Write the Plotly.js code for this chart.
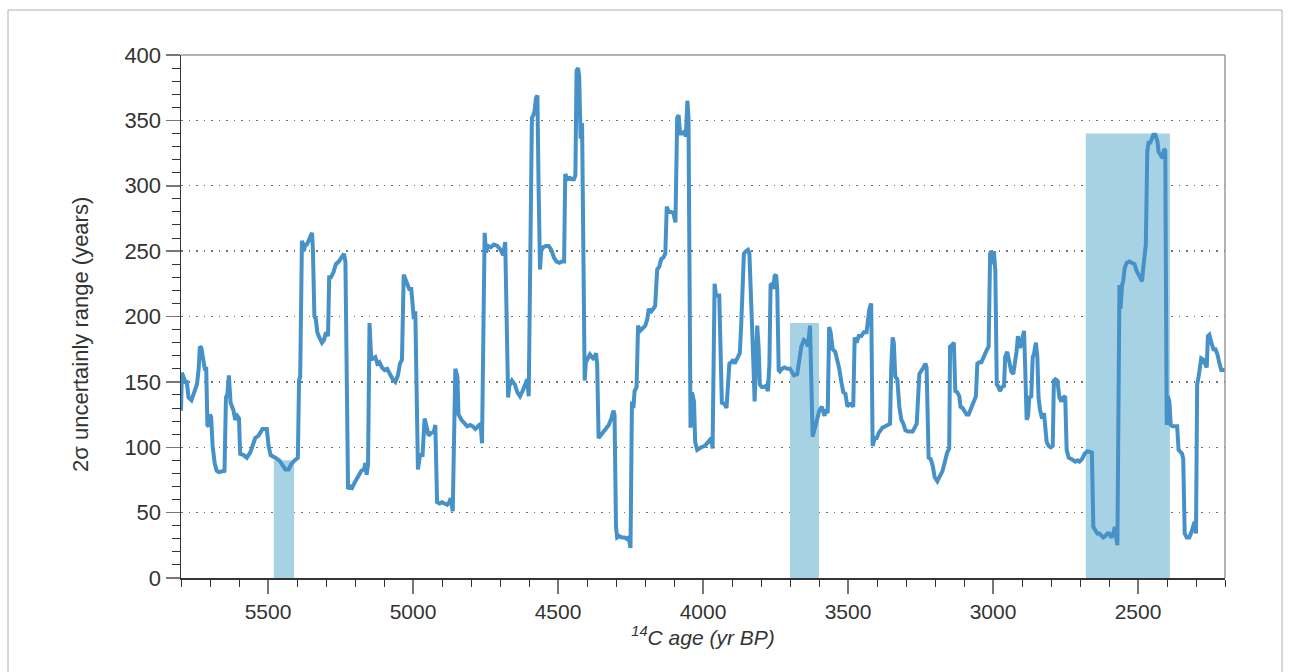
<!DOCTYPE html>
<html>
<head>
<meta charset="utf-8">
<script src="https://cdn.plot.ly/plotly-3.0.1.min.js"></script>
<style>
html, body { margin: 0; padding: 0; background: #fff; }
#chart { width: 1291px; height: 672px; }
</style>
</head>
<body>
<div id="chart"></div>
<script>
// 14C age (yr BP)
const ageBP = [
5800,5797,5790,5785,5780,5774,5764,5756,5745,5739,5735,5730,5724,5718,5713,5709,5704,5700,5696,5691,
5684,5677,5670,5659,5650,5645,5640,5635,5629,5619,5613,5606,5600,5596,5584,5573,5561,5544,5532,5519,
5504,5498,5491,5475,5461,5452,5440,5429,5420,5408,5397,5393,5389,5383,5377,5371,5366,5358,5348,5345,
5340,5335,5330,5323,5314,5307,5300,5293,5289,5283,5274,5266,5256,5247,5238,5233,5224,5217,5210,5201,
5190,5178,5169,5164,5160,5155,5150,5144,5137,5130,5123,5116,5107,5098,5089,5079,5070,5061,5052,5045,
5038,5032,5027,5020,5013,5006,5001,4997,4992,4983,4976,4967,4960,4953,4946,4937,4928,4923,4917,4909,
4900,4891,4882,4875,4870,4863,4854,4847,4843,4833,4822,4813,4803,4794,4785,4774,4767,4762,4753,4748,
4741,4732,4721,4709,4698,4689,4682,4672,4668,4659,4649,4640,4631,4622,4613,4606,4601,4590,4585,4581,
4576,4571,4567,4562,4558,4551,4542,4532,4523,4514,4505,4495,4486,4479,4475,4468,4459,4452,4445,4440,
4436,4431,4427,4422,4417,4413,4408,4404,4397,4390,4383,4376,4369,4365,4360,4353,4344,4335,4325,4316,
4309,4305,4300,4296,4289,4280,4270,4263,4256,4250,4245,4240,4236,4229,4224,4217,4208,4199,4192,4187,
4181,4171,4165,4158,4151,4144,4137,4130,4125,4118,4109,4102,4095,4089,4084,4079,4072,4066,4059,4054,
4050,4043,4038,4031,4027,4020,4015,4006,3994,3985,3978,3971,3967,3960,3955,3948,3944,3935,3925,3919,
3909,3902,3896,3891,3884,3877,3873,3868,3863,3859,3852,3845,3840,3836,3831,3827,3822,3817,3813,3808,
3804,3797,3790,3783,3776,3771,3767,3762,3758,3753,3748,3744,3739,3735,3728,3719,3709,3700,3693,3686,
3675,3668,3661,3652,3645,3638,3631,3622,3615,3608,3599,3590,3581,3576,3570,3565,3560,3553,3544,3537,
3530,3523,3516,3509,3502,3496,3489,3482,3477,3470,3463,3454,3445,3436,3431,3427,3420,3415,3408,3401,
3394,3387,3381,3371,3362,3355,3351,3346,3342,3337,3330,3323,3316,3309,3302,3293,3284,3277,3270,3263,
3254,3247,3240,3233,3229,3222,3215,3208,3201,3192,3183,3174,3167,3158,3151,3148,3142,3135,3130,3123,
3116,3112,3105,3098,3091,3084,3077,3070,3063,3059,3054,3047,3040,3033,3027,3020,3015,3010,3006,3001,
2997,2992,2987,2983,2976,2969,2962,2958,2951,2944,2937,2930,2923,2919,2914,2907,2900,2893,2889,2884,
2879,2875,2868,2863,2859,2852,2847,2843,2838,2831,2824,2820,2815,2808,2801,2794,2790,2785,2778,2771,
2764,2758,2751,2746,2739,2730,2723,2716,2709,2702,2693,2684,2675,2666,2659,2654,2647,2640,2633,2627,
2620,2613,2606,2599,2592,2585,2580,2576,2571,2564,2560,2555,2551,2546,2539,2530,2521,2512,2505,2498,
2491,2486,2482,2477,2473,2468,2463,2459,2454,2447,2440,2433,2429,2422,2415,2410,2406,2401,2397,2392,
2387,2381,2371,2365,2360,2353,2348,2344,2339,2332,2323,2316,2309,2305,2300,2296,2291,2286,2282,2275,
2268,2263,2259,2254,2247,2240,2233,2226,2220,2213,2204,2200
];
// 2-sigma uncertainty range (years)
const range2s = [
128,157,153,150,150,138,136,142,148,160,177,176,168,160,160,117,116,125,123,101,
88,82,81,82,82,138,141,155,134,128,121,124,122,95,94,92,96,107,109,114,
114,101,94,92,90,87,83,83,87,90,92,151,154,258,250,255,255,259,264,250,
200,198,188,184,180,182,188,185,230,230,234,240,242,245,248,242,68,70,69,73,
78,82,83,88,79,87,195,167,168,169,164,165,161,159,160,155,152,150,155,164,
167,232,229,224,221,221,206,198,204,83,94,94,122,116,109,111,112,117,58,57,
58,57,56,58,61,51,160,154,125,121,118,116,117,116,114,117,118,103,264,249,
254,253,255,254,251,247,257,138,147,151,148,142,139,143,148,152,139,352,354,357,
367,369,300,236,250,253,254,254,251,245,242,241,242,242,309,305,306,305,305,308,
388,390,384,336,348,274,151,165,169,171,169,167,172,164,107,109,111,113,117,122,
128,125,39,31,32,31,31,30,31,23,135,130,143,146,193,189,191,193,198,206,
203,206,208,236,238,244,245,248,284,280,280,279,272,352,354,340,340,341,338,365,
352,115,142,135,104,98,99,100,101,103,105,107,99,225,216,216,216,134,133,130,
164,165,167,164,167,169,172,195,242,248,250,251,248,227,195,169,135,169,193,175,
148,146,146,147,143,164,224,225,221,231,232,221,159,158,160,161,160,160,158,155,
156,169,177,182,181,177,193,108,116,120,128,131,124,129,126,192,188,175,173,167,
160,150,142,141,131,133,133,131,184,180,185,185,188,188,203,205,210,101,107,107,
111,113,115,116,117,118,161,184,180,154,152,131,121,118,113,112,112,112,115,118,
156,158,161,164,161,92,91,86,77,74,78,82,88,96,99,177,178,180,143,142,
139,131,130,128,125,125,129,133,135,139,164,165,165,169,172,175,177,248,250,240,
250,235,148,147,143,146,147,169,173,164,158,156,165,173,185,176,182,189,161,121,
124,138,139,169,171,180,169,138,129,122,126,115,104,101,100,101,151,152,151,138,
135,138,139,98,92,91,90,89,90,89,91,95,97,96,96,39,36,34,34,32,
31,32,34,34,31,34,39,32,25,224,206,224,227,237,241,242,241,240,235,232,
229,227,237,248,255,326,334,332,336,339,339,334,326,323,321,328,327,117,139,135,
117,116,116,116,98,96,95,91,34,31,31,35,40,43,34,148,154,164,168,167,
163,161,185,186,180,175,175,171,165,159,159,159
];
// highlighted intervals
const bandStart = [5480, 3700, 2680];
const bandEnd = [5410, 3600, 2390];
const bandTop = [90, 195, 340];

const traces = [];
for (let i = 0; i < bandStart.length; i++) {
  traces.push({
    type: 'scatter', mode: 'lines',
    x: [bandStart[i], bandEnd[i], bandEnd[i], bandStart[i], bandStart[i]],
    y: [0, 0, bandTop[i], bandTop[i], 0],
    fill: 'toself', fillcolor: '#a6d2e4',
    line: {width: 0, color: 'rgba(0,0,0,0)'},
    hoverinfo: 'skip', showlegend: false
  });
}
traces.push({
  type: 'scatter', mode: 'lines',
  x: ageBP, y: range2s,
  line: {color: '#4591c8', width: 4},
  showlegend: false
});

const fontFam = 'Liberation Sans, Arial, sans-serif';
const layout = {
  width: 1291, height: 672,
  margin: {l: 181, r: 66, t: 55, b: 94},
  paper_bgcolor: '#ffffff', plot_bgcolor: '#ffffff',
  font: {family: fontFam, color: '#333333', size: 21},
  showlegend: false,
  xaxis: {
    range: [5800, 2200],
    tickmode: 'linear', tick0: 2000, dtick: 500,
    ticks: 'outside', ticklen: 14, tickcolor: '#777777', tickwidth: 1.5,
    minor: {dtick: 100, tick0: 2000, ticks: 'outside', ticklen: 7, tickcolor: '#333333', tickwidth: 1, showgrid: false},
    showline: true, linecolor: '#333333', linewidth: 1.5,
    showgrid: false, zeroline: false,
    tickfont: {size: 21, color: '#333333'},
    title: {text: '<i><sup>14</sup>C age (yr BP)</i>', font: {size: 21, color: '#333333'}, standoff: 8}
  },
  yaxis: {
    range: [0, 400],
    tickmode: 'linear', tick0: 0, dtick: 50,
    ticks: 'outside', ticklen: 14, tickcolor: '#777777', tickwidth: 1.5,
    minor: {dtick: 10, tick0: 0, ticks: 'outside', ticklen: 8, tickcolor: '#333333', tickwidth: 1, showgrid: false},
    showline: true, linecolor: '#333333', linewidth: 1.5,
    showgrid: true, gridcolor: '#707070', gridwidth: 1.3, griddash: '1.5px,6px',
    zeroline: false,
    tickfont: {size: 22, color: '#333333'}
  },
  annotations: [
    {text: '2σ uncertainly range (years)', xref: 'paper', yref: 'paper',
     x: (80 - 181) / 1044, y: (578 - 335) / 523, xanchor: 'center', yanchor: 'middle',
     textangle: -90, showarrow: false, font: {size: 22, color: '#333333'}}
  ],
  shapes: [
    {type: 'line', xref: 'paper', yref: 'paper', x0: 0, x1: 1, y0: 1, y1: 1, line: {color: '#9a9a9a', width: 1.5}},
    {type: 'line', xref: 'paper', yref: 'paper', x0: 1, x1: 1, y0: 0, y1: 1, line: {color: '#9a9a9a', width: 1.5}},
    {type: 'line', xref: 'paper', yref: 'paper', x0: -0.1657, x1: 1.0546, y0: 1.086, y1: 1.086, line: {color: '#b0b0b0', width: 1}},
    {type: 'line', xref: 'paper', yref: 'paper', x0: -0.1657, x1: -0.1657, y0: -0.2, y1: 1.086, line: {color: '#b0b0b0', width: 1}},
    {type: 'line', xref: 'paper', yref: 'paper', x0: 1.0546, x1: 1.0546, y0: -0.2, y1: 1.086, line: {color: '#b0b0b0', width: 1}}
  ]
};

Plotly.newPlot('chart', traces, layout, {displayModeBar: false, staticPlot: true});
</script>
</body>
</html>
